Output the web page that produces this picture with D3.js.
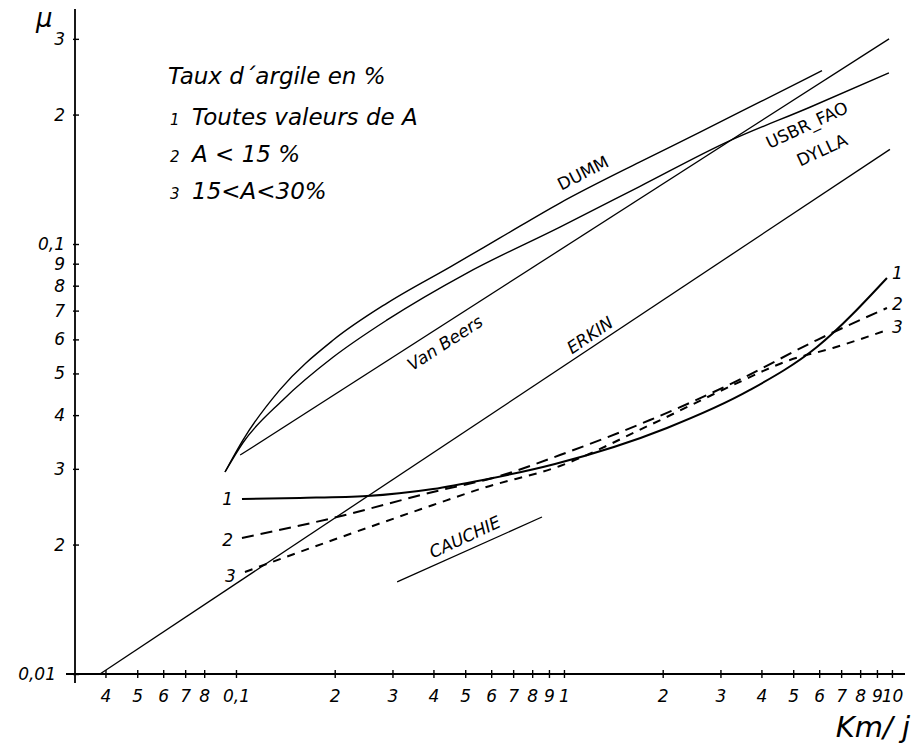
<!DOCTYPE html>
<html>
<head>
<meta charset="utf-8">
<script src="https://cdn.jsdelivr.net/npm/d3@7"></script>
<style>
  html, body { margin: 0; padding: 0; background: #fff; }
  svg { display: block; }
  text { font-family: "DejaVu Sans", "Liberation Sans", sans-serif; fill: #000; }
</style>
</head>
<body>
<svg id="chart" width="914" height="745"></svg>
<script>
// ---- Data ----
const xTicks = [0.04, 0.05, 0.06, 0.07, 0.08, 0.1, 0.2, 0.3, 0.4, 0.5, 0.6, 0.7, 0.8, 0.9, 1, 2, 3, 4, 5, 6, 7, 8, 9, 10];
const xTickLabels = ["4", "5", "6", "7", "8", "0,1", "2", "3", "4", "5", "6", "7", "8", "9", "1", "2", "3", "4", "5", "6", "7", "8", "9", "10"];
const yTicks = [0.01, 0.02, 0.03, 0.04, 0.05, 0.06, 0.07, 0.08, 0.09, 0.1, 0.2, 0.3];
const yTickLabels = ["0,01", "2", "3", "4", "5", "6", "7", "8", "9", "0,1", "2", "3"];

const erkinX = [0.0385, 9.86];
const erkinY = [0.01, 0.166];
const vanBeersX = [0.103, 9.8];
const vanBeersY = [0.0323, 0.30];
const cauchieX = [0.31, 0.857];
const cauchieY = [0.01637, 0.02318];
const dummX = [0.0926, 0.105, 0.136, 0.198, 0.289, 0.449, 0.638, 0.972, 1.70, 2.60, 3.96, 6.12];
const dummY = [0.0295, 0.0350, 0.0458, 0.0598, 0.0729, 0.0884, 0.1033, 0.1245, 0.155, 0.182, 0.214, 0.253];
const usbrX = [0.0926, 0.105, 0.139, 0.198, 0.289, 0.506, 0.972, 1.70, 3.16, 5.62, 9.79];
const usbrY = [0.0295, 0.0345, 0.0434, 0.0546, 0.0666, 0.0856, 0.1095, 0.136, 0.173, 0.208, 0.250];
const curve1X = [0.1043, 0.1567, 0.2507, 0.3988, 0.5664, 0.9388, 2.061, 3.691, 5.906, 9.656];
const curve1Y = [0.02553, 0.02567, 0.02594, 0.02693, 0.02827, 0.03079, 0.03734, 0.04577, 0.05761, 0.08336];
const curve2X = [0.1043, 0.1975, 0.3988, 0.6379, 0.9723, 1.829, 3.275, 5.906, 9.656];
const curve2Y = [0.02072, 0.02306, 0.0265, 0.02887, 0.0323, 0.03896, 0.04752, 0.0598, 0.07099];
const curve3X = [0.1065, 0.1975, 0.3988, 0.5664, 0.9723, 1.829, 3.275, 4.887, 6.61, 9.656];
const curve3Y = [0.01727, 0.02049, 0.02472, 0.02707, 0.03046, 0.03794, 0.04698, 0.05373, 0.0573, 0.0631];

const curveNames = ["1", "2", "3"];
const legendTitle = "Taux d\u00b4argile en %";
const legendItems = ["Toutes valeurs de A", "A < 15 %", "15<A<30%"];

// label anchors (data coordinates) and texts
const labelTexts = ["DUMM", "USBR_FAO", "DYLLA", "Van Beers", "ERKIN", "CAUCHIE"];
const labelX = [1.143, 5.507, 6.117, 0.4337, 1.2, 0.499];
const labelY = [0.1463, 0.1891, 0.1654, 0.05886, 0.0614, 0.02083];

// ---- Layout ----
const svg = d3.select("#chart");
const x = d3.scaleLog().domain([0.0323, 10.96]).range([75, 905]);
const y = d3.scaleLog().domain([0.01, 0.352]).range([674, 9]);

const zip = (xs, ys) => xs.map((v, i) => [v, ys[i]]);
const lineSmooth = d3.line().x(d => x(d[0])).y(d => y(d[1])).curve(d3.curveMonotoneX);
const lineStraight = d3.line().x(d => x(d[0])).y(d => y(d[1]));

// ---- Axes ----
const xAxisG = svg.append("g").attr("transform", `translate(0,${y(0.01)})`)
  .call(d3.axisBottom(x).tickValues(xTicks).tickFormat((d, i) => xTickLabels[i]).tickSize(4).tickPadding(12));
xAxisG.select(".domain").remove();
xAxisG.selectAll(".tick line").attr("y1", -4).attr("y2", 4).attr("stroke", "#000").attr("stroke-width", 1.4);
xAxisG.selectAll(".tick text").attr("font-size", 17).attr("font-style", "italic").attr("fill", "#000")
  .attr("font-family", "DejaVu Sans");

const yAxisG = svg.append("g").attr("transform", `translate(${x.range()[0]},0)`)
  .call(d3.axisLeft(y).tickValues(yTicks).tickFormat((d, i) => yTickLabels[i]).tickSize(3).tickPadding(7));
yAxisG.select(".domain").remove();
yAxisG.selectAll(".tick line").attr("x1", -2).attr("x2", 4).attr("stroke", "#000").attr("stroke-width", 1.4);
yAxisG.selectAll(".tick text").attr("font-size", 17).attr("font-style", "italic").attr("fill", "#000")
  .attr("font-family", "DejaVu Sans");
// the 0,01 label sits left of the extended x-axis stub
yAxisG.selectAll(".tick text").filter((d, i) => i === 0).attr("x", -19);

// axis lines (crossing at origin)
svg.append("line").attr("x1", x.range()[0] - 9).attr("x2", x.range()[1])
  .attr("y1", y(0.01)).attr("y2", y(0.01)).attr("stroke", "#000").attr("stroke-width", 1.8);
svg.append("line").attr("x1", x.range()[0]).attr("x2", x.range()[0])
  .attr("y1", y.range()[1]).attr("y2", y(0.01) + 9).attr("stroke", "#000").attr("stroke-width", 1.8);

// axis titles
svg.append("text").attr("x", 36).attr("y", 27).attr("font-size", 26).attr("font-style", "italic").text("\u03bc");
svg.append("text").attr("x", 910).attr("y", 737).attr("text-anchor", "end").attr("font-size", 29)
  .attr("font-style", "italic").text("Km/ j");

// ---- Series ----
const plot = svg.append("g").attr("fill", "none").attr("stroke", "#000");
plot.append("path").attr("d", lineStraight(zip(erkinX, erkinY))).attr("stroke-width", 1.3);
plot.append("path").attr("d", lineStraight(zip(vanBeersX, vanBeersY))).attr("stroke-width", 1.3);
plot.append("path").attr("d", lineStraight(zip(cauchieX, cauchieY))).attr("stroke-width", 1.3);
plot.append("path").attr("d", lineSmooth(zip(dummX, dummY))).attr("stroke-width", 1.4);
plot.append("path").attr("d", lineSmooth(zip(usbrX, usbrY))).attr("stroke-width", 1.4);

const groupSeries = [zip(curve1X, curve1Y), zip(curve2X, curve2Y), zip(curve3X, curve3Y)];
const groupDash = [null, "12,7", "8,7"];
groupSeries.forEach((s, i) => {
  plot.append("path").attr("d", lineSmooth(s)).attr("stroke-width", 2)
    .attr("stroke-dasharray", groupDash[i]);
  const first = s[0], last = s[s.length - 1];
  svg.append("text").attr("x", x(first[0]) - 9).attr("y", y(first[1]) + 6 + i * 2)
    .attr("text-anchor", "end").attr("font-size", 17).attr("font-style", "italic").text(curveNames[i]);
  svg.append("text").attr("x", x(last[0]) + 5).attr("y", y(last[1]) + 1 + i)
    .attr("font-size", 17).attr("font-style", "italic").text(curveNames[i]);
});

// ---- Curve labels ----
const labelRot = [-27, -25, -25, -33, -34, -25];
const labelItalic = [false, false, false, true, true, true];
labelTexts.forEach((t, i) => {
  const px = x(labelX[i]), py = y(labelY[i]);
  svg.append("text").attr("transform", `translate(${px},${py}) rotate(${labelRot[i]})`)
    .attr("text-anchor", "middle").attr("dy", "0.35em").attr("font-size", 17)
    .attr("font-style", labelItalic[i] ? "italic" : "normal").text(t);
});

// ---- Legend ----
const lg = svg.append("g").attr("transform", "translate(168,0)");
lg.append("text").attr("x", 0).attr("y", 84).attr("font-size", 23).attr("font-style", "italic").text(legendTitle);
legendItems.forEach((t, i) => {
  const by = 125 + i * 37;
  lg.append("text").attr("x", 2).attr("y", by).attr("font-size", 15).attr("font-style", "italic").text(curveNames[i]);
  lg.append("text").attr("x", 24).attr("y", by).attr("font-size", 23).attr("font-style", "italic").text(t);
});
</script>
</body>
</html>
